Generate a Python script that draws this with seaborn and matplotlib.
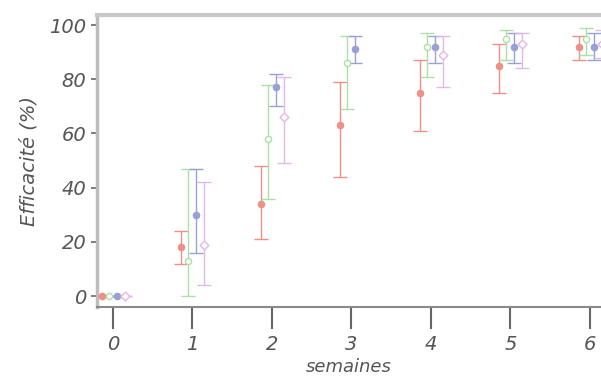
import numpy as np
import pandas as pd
import matplotlib
matplotlib.use("Agg")
import matplotlib.pyplot as plt
import seaborn as sns

weeks = [0, 1, 2, 3, 4, 5, 6]
series = ["A", "B", "C", "D"]

red_mean = [0, 18, 34, 63, 75, 85, 92]
red_lo = [0, 12, 21, 44, 61, 75, 87]
red_hi = [0, 24, 48, 79, 87, 93, 96]

green_mean = [0, 13, 58, 86, 92, 95, 95]
green_lo = [0, 0, 36, 69, 81, 87, 89]
green_hi = [0, 47, 78, 96, 97, 98, 99]

blue_mean = [0, 30, 77, 91, 92, 92, 92]
blue_lo = [0, 16, 70, 86, 86, 86, 87]
blue_hi = [0, 47, 82, 96, 96, 97, 97]

pink_mean = [0, 19, 66, np.nan, 89, 93, 93]
pink_lo = [0, 4, 49, np.nan, 77, 84, 88]
pink_hi = [0, 42, 81, np.nan, 96, 97, 98]

means = [red_mean, green_mean, blue_mean, pink_mean]
los = [red_lo, green_lo, blue_lo, pink_lo]
his = [red_hi, green_hi, blue_hi, pink_hi]

colors = ["#ec9088", "#ace0a6", "#98a0d6", "#e2b8e6"]
offsets = [-0.14, -0.05, 0.05, 0.15]
markers = ["o", "o", "o", "D"]
filled = [True, False, True, False]

sns.set_theme(style="white")
plt.rcParams['font.family'] = ['DejaVu Sans']

fig = plt.figure(figsize=(6.01, 3.87), dpi=100)
ax = fig.add_axes([97/601, 80/387, (601-97)/601, (307-15)/387])

rows = []
for s, m, lo, hi, off in zip(series, means, los, his, offsets):
    for w, mv, l, h in zip(weeks, m, lo, hi):
        rows.append(dict(series=s, x=w + off, mean=mv, lo=l, hi=h))
df = pd.DataFrame(rows)

for s, c, mk, fl in zip(series, colors, markers, filled):
    d = df[df.series == s].dropna()
    ax.errorbar(d["x"], d["mean"], yerr=[d["mean"] - d["lo"], d["hi"] - d["mean"]],
                fmt="none", ecolor=c, elinewidth=1.0, capsize=5, capthick=1.0, zorder=2)
    sns.scatterplot(data=d, x="x", y="mean", ax=ax, marker=mk, s=20,
                    color=c if fl else "white", edgecolor=c, linewidth=1.0,
                    legend=False, zorder=3)

ax.set_xlim(-0.2, 6.14)
ax.set_ylim(-4, 103.7)
ax.set_xticks(weeks)
ax.set_xticklabels([str(w) for w in weeks])
ax.set_yticks([0, 20, 40, 60, 80, 100])
ax.set_yticklabels(["0", "20", "40", "60", "80", "100"])

txtc = "#555555"
ax.tick_params(axis="x", direction="out", length=16, width=1.5, color="#666666",
               labelsize=14, labelcolor=txtc, pad=4, bottom=True)
ax.tick_params(axis="y", direction="out", length=4, width=1.2, color="#666666",
               labelsize=14, labelcolor=txtc, pad=3.5, left=True)
for lab in ax.get_xticklabels() + ax.get_yticklabels():
    lab.set_fontstyle("italic")

ax.set_xlabel("semaines", fontsize=13, color=txtc, style="italic", labelpad=3)
ax.set_ylabel("Efficacité (%)", fontsize=14, color=txtc, style="italic", labelpad=8)

ax.spines["right"].set_visible(False)
ax.spines["top"].set_color("#c8c8c8")
ax.spines["top"].set_linewidth(3)
ax.spines["left"].set_color("#bdbdbd")
ax.spines["left"].set_linewidth(2.5)
ax.spines["bottom"].set_color("#8a8a8a")
ax.spines["bottom"].set_linewidth(1.5)

fig.savefig("out.png", dpi=100)
